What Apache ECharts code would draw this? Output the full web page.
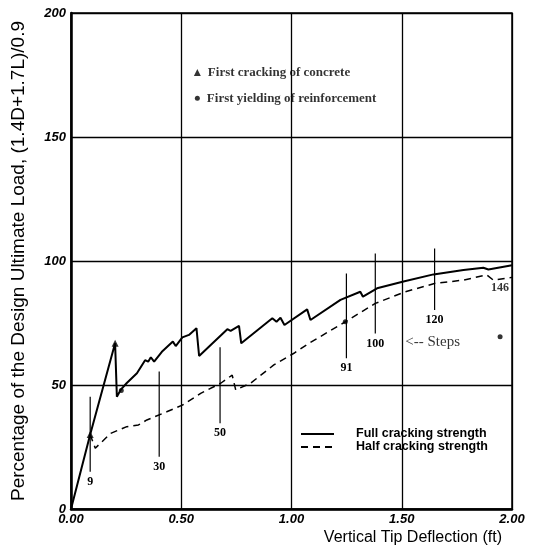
<!DOCTYPE html>
<html><head><meta charset="utf-8">
<script src="https://cdn.jsdelivr.net/npm/echarts@6/dist/echarts.min.js"></script>
<style>html,body{margin:0;padding:0;background:#fff}#c{width:536px;height:550px}</style>
</head><body><div id="c"></div>
<script>
// ---- data ----
const xTicks = [0, 0.5, 1.0, 1.5, 2.0];
const yTicks = [0, 50, 100, 150, 200];
const fullCurve = [[0,0],[0.087,30],[0.200,66.8],[0.208,45.3],[0.225,48],[0.253,50.8],[0.299,54.7],[0.336,60],[0.350,59.4],[0.362,61.2],[0.377,59.4],[0.412,63.4],[0.462,67.5],[0.475,65.7],[0.505,69.2],[0.535,70.2],[0.569,72.9],[0.581,61.7],[0.709,72.5],[0.724,71.8],[0.762,73.8],[0.772,66.8],[0.913,76.9],[0.932,75.5],[0.950,77.1],[0.968,74.2],[1.071,80.5],[1.086,76.2],[1.222,84.3],[1.312,87.6],[1.324,85.6],[1.388,89.0],[1.508,91.7],[1.644,94.6],[1.780,96.4],[1.870,97.3],[1.893,96.6],[2.0,98.3]];
const halfCurve = [[0.087,30],[0.110,24.5],[0.125,25.8],[0.180,30.5],[0.253,33.2],[0.306,33.9],[0.344,35.9],[0.434,39.2],[0.505,41.9],[0.588,46.6],[0.679,50.7],[0.731,54],[0.747,48],[0.814,50.7],[0.920,58.1],[1.011,62.8],[1.079,66.8],[1.244,75.5],[1.380,82.9],[1.516,87.6],[1.652,91.0],[1.780,92.3],[1.885,94.4],[1.915,92.3],[2.0,93.4]];
const crackPoints = [[0.087,30],[0.200,66.8]];
const yieldPoints = [[0.228,47.8],[1.244,75.5],[1.946,69.5]];
const stepNames = ['9','30','50','91','100','120'];
const stepX = [0.087,0.400,0.676,1.249,1.380,1.649];
const stepTop = [45.3,55.4,65.2,95,103,105];
const stepBottom = [15,21.1,34.6,60.8,70.8,80.2];
const extraStepLabel = {name:'146', x:1.946, y:89};
const stepsNote = {text:'<-- Steps', x:1.516, y:67.5};
const keyItems = [{text:'First cracking of concrete', x:0.573, y:176, symbol:'triangle'},{text:'First yielding of reinforcement', x:0.573, y:165.6, symbol:'circle'}];

// ---- chart ----
const chart = echarts.init(document.getElementById('c'), null, {renderer:'canvas'});
const tickFont = {fontFamily:'Liberation Sans', fontWeight:'bold', fontStyle:'italic', fontSize:13, color:'#000'};
const serif = 'Liberation Serif';
const series = [
  {name:'Full cracking strength', type:'line', data:fullCurve, symbol:'none', lineStyle:{color:'#000', width:2}, itemStyle:{color:'#000'}, z:5},
  {name:'Half cracking strength', type:'line', data:halfCurve, symbol:'none', lineStyle:{color:'#000', width:1.5, type:[7,5]}, itemStyle:{color:'#000'}, z:5},
  {name:'crack', type:'scatter', data:crackPoints, symbol:'triangle', symbolSize:7, itemStyle:{color:'#000'}, z:6},
  {name:'yield', type:'scatter', data:yieldPoints, symbol:'circle', symbolSize:5, itemStyle:{color:'#000'}, z:6}
];
stepNames.forEach((n,i)=>{
  series.push({name:'step'+n, type:'line', symbol:'none', lineStyle:{color:'#000', width:1.2}, z:4,
    data:[[stepX[i],stepTop[i]], {value:[stepX[i],stepBottom[i]], symbol:'circle', symbolSize:0.01,
      label:{show:true, position:'bottom', distance:4, formatter:n, fontFamily:serif, fontSize:12, fontWeight:'bold', color:'#000'}}]});
});
series.push({name:'notes', type:'scatter', symbolSize:0, z:7,
  data:[
    {value:[extraStepLabel.x, extraStepLabel.y], label:{show:true, position:'inside', formatter:extraStepLabel.name, fontFamily:serif, fontSize:12, fontWeight:'bold', color:'#000'}},
    {value:[stepsNote.x, stepsNote.y], label:{show:true, position:'right', distance:0, formatter:stepsNote.text, fontFamily:serif, fontSize:15, color:'#000'}}
  ]});
series.push({name:'key', type:'scatter', z:7, itemStyle:{color:'#000'},
  data:keyItems.map(k=>({value:[k.x,k.y], symbol:k.symbol, symbolSize:k.symbol==='triangle'?7:5,
    label:{show:true, position:'right', distance:7, formatter:k.text, fontFamily:serif, fontWeight:'bold', fontSize:13, color:'#000'}}))});

chart.setOption({
  backgroundColor:'#fff',
  animation:false,
  grid:{left:71, right:24, top:13, bottom:41, show:true, borderColor:'#000', borderWidth:1.5},
  legend:{data:['Full cracking strength','Half cracking strength'], orient:'vertical', left:295, top:422.5, itemWidth:33, itemHeight:8, itemGap:0,
    itemStyle:{opacity:0},
    textStyle:{fontFamily:'Liberation Sans', fontSize:12.5, lineHeight:13, fontWeight:'bold', color:'#000', padding:[0,0,0,17]}},
  xAxis:{type:'value', min:xTicks[0], max:xTicks[xTicks.length-1], interval:0.5,
    axisLine:{show:true, lineStyle:{color:'#000', width:2.5}}, axisTick:{show:false},
    axisLabel:Object.assign({margin:4, formatter:v=>v.toFixed(2)}, tickFont),
    splitLine:{show:true, lineStyle:{color:'#000', width:1.3}},
    name:'Vertical Tip Deflection (ft)', nameLocation:'end', nameGap:-10,
    nameTextStyle:{fontFamily:'Liberation Sans', fontSize:16, color:'#000', align:'right', verticalAlign:'top', padding:[21,0,0,0]}},
  yAxis:{type:'value', min:yTicks[0], max:yTicks[yTicks.length-1], interval:50,
    axisLine:{show:true, lineStyle:{color:'#000', width:2.5}}, axisTick:{show:false},
    axisLabel:Object.assign({margin:5}, tickFont),
    splitLine:{show:true, lineStyle:{color:'#000', width:1.3}},
    name:'Percentage of the Design Ultimate Load, (1.4D+1.7L)/0.9', nameLocation:'middle', nameGap:43,
    nameTextStyle:{fontFamily:'Liberation Sans', fontSize:19, color:'#000'}},
  series:series
});
</script></body></html>
